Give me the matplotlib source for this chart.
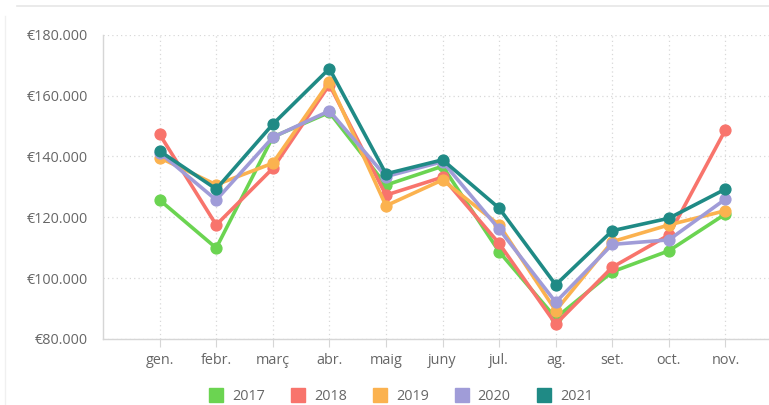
import matplotlib.pyplot as plt
from matplotlib.ticker import FuncFormatter
from matplotlib.lines import Line2D

plt.rcParams['font.family'] = ['Open Sans', 'DejaVu Sans']

months = ['gen.', 'febr.', 'març', 'abr.', 'maig', 'juny', 'jul.', 'ag.', 'set.', 'oct.', 'nov.']
years = ['2017', '2018', '2019', '2020', '2021']

v2017 = [125700, 109900, 146400, 154500, 130600, 136800, 108700, 86900, 102100, 109000, 121100]
v2018 = [147300, 117500, 136100, 163600, 127300, 133200, 111400, 84900, 103600, 114200, 148800]
v2019 = [139600, 130700, 137800, 164600, 123800, 132300, 117500, 89300, 112000, 117500, 122200]
v2020 = [141300, 125700, 146300, 155000, 133400, 138300, 116100, 92100, 111100, 112600, 126000]
v2021 = [141800, 129300, 150600, 168900, 134300, 138900, 123000, 97800, 115600, 119700, 129300]

series = [v2017, v2018, v2019, v2020, v2021]
colors = ['#6bd451', '#f8746c', '#fbb24f', '#a09cd8', '#1f8a85']

fig = plt.figure(figsize=(7.69, 4.05), dpi=100)
ax = fig.add_axes([0.134, 0.163, 0.883, 0.751])

x = list(range(len(months)))
for vals, col in zip(series, colors):
    ax.plot(x, vals, color=col, lw=2.6, marker='o', ms=7.8, zorder=3)

ax.set_xlim(-1, 11)
ax.set_ylim(80000, 180000)
ax.set_yticks(range(80000, 180001, 20000))
ax.yaxis.set_major_formatter(FuncFormatter(lambda v, p: '€' + f'{int(v):,}'.replace(',', '.')))
ax.set_xticks(x)
ax.set_xticklabels(months)

ax.grid(True, color='#d8d8d8', linestyle=(0, (1, 2.5)), lw=0.9)
ax.set_axisbelow(True)
for side in ['top', 'right']:
    ax.spines[side].set_visible(False)
for side in ['left', 'bottom']:
    ax.spines[side].set_color('#d6d6d6')
    ax.spines[side].set_linewidth(1.0)

ax.tick_params(axis='y', length=0, pad=11, labelsize=10.4, labelcolor='#666666')
ax.tick_params(axis='x', length=6, color='#d6d6d6', pad=4, labelsize=10.4, labelcolor='#666666')

handles = [Line2D([], [], color=c, marker='s', ls='none', ms=9.5) for c in colors]
fig.legend(handles, years, loc='center', bbox_to_anchor=(0.522, 0.022), ncol=5, frameon=False,
           fontsize=10.4, labelcolor='#666666', handlelength=0.8, handletextpad=0.7,
           columnspacing=1.9, borderpad=0.2)

# card border
fig.add_artist(Line2D([0.022, 1], [0.985, 0.985], color='#e6e6e6', lw=1.2, transform=fig.transFigure))
fig.add_artist(Line2D([0.006, 0.006], [0, 0.96], color='#f0f0f0', lw=1.0, transform=fig.transFigure))

fig.savefig('out.png', dpi=100)
